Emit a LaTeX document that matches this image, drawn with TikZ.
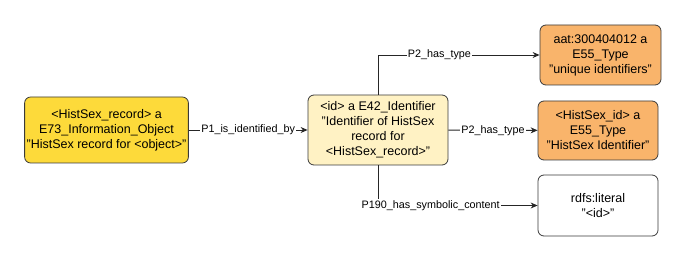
\documentclass[tikz,border=0pt]{standalone}
\usepackage{fontspec}
\setmainfont{Liberation Sans}
\usepackage{tikz}
\usetikzlibrary{arrows.meta, positioning, calc}
\definecolor{hs-gold}{HTML}{FDDA3A}
\definecolor{hs-cream}{HTML}{FFF2C4}
\definecolor{hs-orange}{HTML}{F9B46B}
\definecolor{hs-edge}{HTML}{3A3A3A}

\begin{document}
\begin{tikzpicture}[
    x=1pt, y=-1pt,
    box/.style={rectangle, draw=hs-edge, thick, rounded corners=6pt, align=center, inner sep=2pt, font=\fontsize{12.5}{15}\selectfont},
    goldbox/.style={box, fill=hs-gold, minimum width=163pt, minimum height=66pt},
    creambox/.style={box, fill=hs-cream, minimum width=140pt, minimum height=70pt},
    orangebox/.style={box, fill=hs-orange, minimum width=121pt, minimum height=60pt},
    litbox/.style={box, fill=white, minimum width=120pt, minimum height=61pt},
    arrow/.style={-{Stealth[length=7pt, width=6pt]}, draw=black!85, line width=0.9pt},
    lbl/.style={fill=white, inner sep=1pt, font=\fontsize{10.8}{12}\selectfont}
]
\useasboundingbox (0,0) rectangle (687,261);

% Record
\node[goldbox] (record) at (106.5,130) {<HistSex\_record> a\\E73\_Information\_Object\\"HistSex record for <object>"};

% Identifier
\node[creambox] (ident) at (378,130) {<id> a E42\_Identifier\\"Identifier of HistSex\\record for\\<HistSex\_record>"};

% Types
\node[orangebox] (aat) at (600.5,55) {aat:300404012 a\\E55\_Type\\"unique identifiers"};
\node[orangebox, minimum width=120pt, minimum height=59pt] (idtype) at (598,130.5) {<HistSex\_id> a\\E55\_Type\\"HistSex Identifier"};

% Literal
\node[litbox] (literal) at (598,205.5) {rdfs:literal\\"<id>"};

% Arrows
\draw[arrow] (record) -- node[lbl] {P1\_is\_identified\_by} (ident);
\draw[arrow] (ident.north) |- node[lbl, pos=0.69] {P2\_has\_type} (aat);
\draw[arrow] (ident) -- node[lbl] {P2\_has\_type} (idtype);
\draw[arrow] (ident.south) |- node[lbl, pos=0.665] {P190\_has\_symbolic\_content} (literal);

\end{tikzpicture}
\end{document}
